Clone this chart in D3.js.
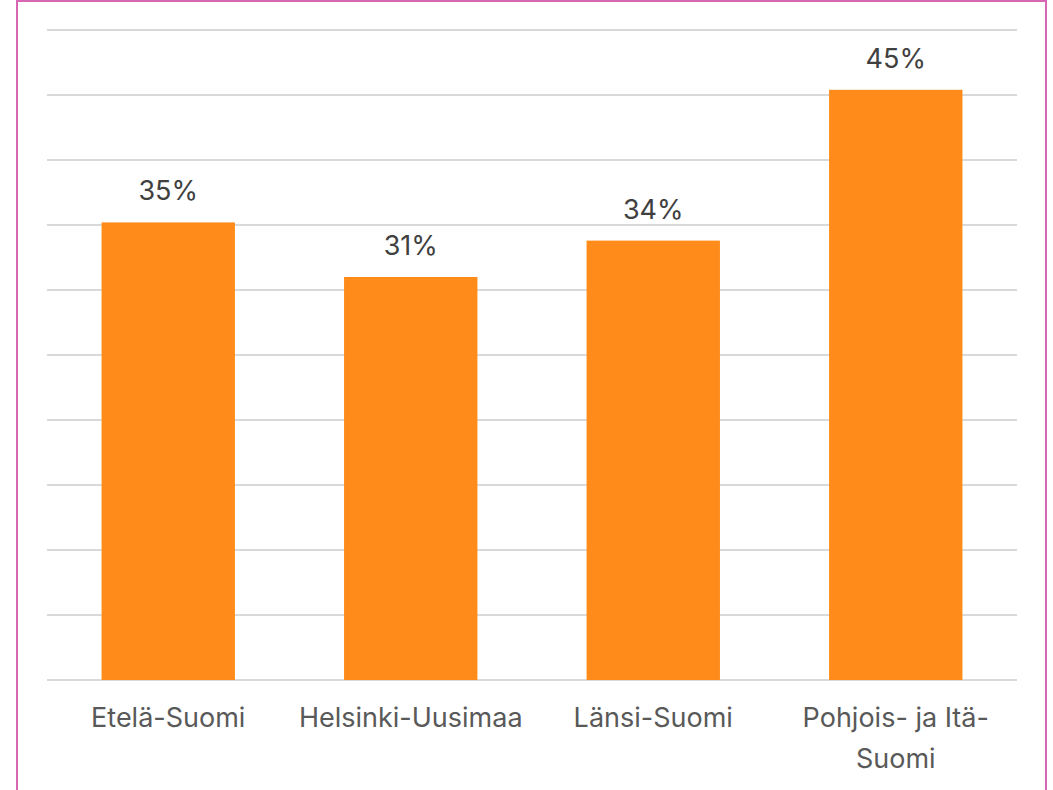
<!DOCTYPE html>
<html>
<head>
<meta charset="utf-8">
<script src="https://cdn.jsdelivr.net/npm/d3@7"></script>
<style>
  body { margin: 0; background: #fff; }
  svg { display: block; }
</style>
</head>
<body>
<svg id="chart" width="1053" height="790"></svg>
<script>
// regions and their shares (percent)
var regions = ["Etelä-Suomi", "Helsinki-Uusimaa", "Länsi-Suomi", "Pohjois- ja Itä-Suomi"];
var shares = [35.2, 31.0, 33.8, 45.4];
var shareLabels = ["35%", "31%", "34%", "45%"];
// label lines for the x axis (wrapped like the original)
var regionLines = [["Etelä-Suomi"], ["Helsinki-Uusimaa"], ["Länsi-Suomi"], ["Pohjois- ja Itä-", "Suomi"]];
var gridTicks = [0, 5, 10, 15, 20, 25, 30, 35, 40, 45, 50];

var svg = d3.select("#chart");
var plotLeft = 47, plotRight = 1017, plotTop = 30, plotBottom = 680;

// frame
svg.append("rect")
  .attr("x", 17).attr("y", 1)
  .attr("width", 1029).attr("height", 800)
  .attr("fill", "none")
  .attr("stroke", "#d767b3")
  .attr("stroke-width", 2);

var x = d3.scaleBand().domain(regions).range([plotLeft, plotRight]).paddingInner(0.45).paddingOuter(0.225);
var y = d3.scaleLinear().domain([0, 50]).range([plotBottom, plotTop]);

// gridlines
svg.append("g").selectAll("line")
  .data(gridTicks)
  .join("line")
  .attr("x1", plotLeft).attr("x2", plotRight)
  .attr("y1", function(d) { return Math.round(y(d)); })
  .attr("y2", function(d) { return Math.round(y(d)); })
  .attr("stroke", "#d9d9d9")
  .attr("stroke-width", 2);

// bars
svg.append("g").selectAll("rect")
  .data(regions)
  .join("rect")
  .attr("x", function(d) { return x(d); })
  .attr("width", x.bandwidth())
  .attr("y", function(d, i) { return y(shares[i]); })
  .attr("height", function(d, i) { return y(0) - y(shares[i]); })
  .attr("fill", "#ff8c1a");

// value labels
svg.append("g").selectAll("text")
  .data(regions)
  .join("text")
  .attr("x", function(d) { return x(d) + x.bandwidth() / 2; })
  .attr("y", function(d, i) { return y(shares[i]) - 22; })
  .attr("text-anchor", "middle")
  .attr("font-family", "Inter, 'Open Sans', sans-serif")
  .attr("font-size", 27)
  .attr("fill", "#404040")
  .text(function(d, i) { return shareLabels[i]; });

// category labels
var cat = svg.append("g").selectAll("text")
  .data(regions)
  .join("text")
  .attr("x", function(d) { return x(d) + x.bandwidth() / 2; })
  .attr("y", 727)
  .attr("text-anchor", "middle")
  .attr("font-family", "Inter, 'Open Sans', sans-serif")
  .attr("font-size", 27)
  .attr("fill", "#595959");

cat.each(function(d, i) {
  var t = d3.select(this);
  regionLines[i].forEach(function(line, j) {
    t.append("tspan")
      .attr("x", x(d) + x.bandwidth() / 2)
      .attr("dy", j === 0 ? 0 : 41)
      .text(line);
  });
});
</script>
</body>
</html>
